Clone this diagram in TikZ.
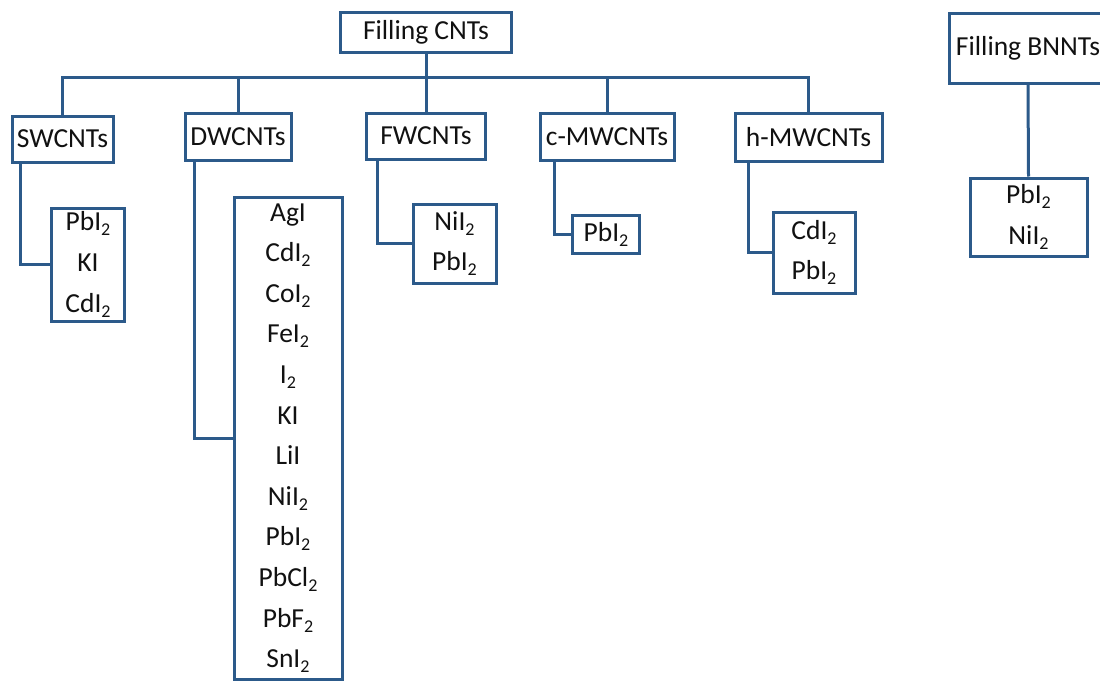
\documentclass[tikz,border=0pt]{standalone}
\usepackage{fontspec}
\setmainfont{Carlito}
\definecolor{lc}{HTML}{2C5A8A}
\definecolor{tc}{HTML}{111111}
\newcommand{\subtwo}{\raisebox{-5pt}{\fontsize{18}{18}\selectfont 2}}
\tikzset{
  box/.style={draw=lc, line width=3pt, inner sep=0pt, align=center, text=tc,
    font=\fontsize{27.5}{32}\selectfont},
  listbox/.style={box, font=\fontsize{27.5}{40.6}\selectfont},
  conn/.style={draw=lc, line width=3pt}
}
\begin{document}
\begin{tikzpicture}[x=1pt,y=-1pt]
\useasboundingbox (0,0) rectangle (1100,680);
\clip (0,0) rectangle (1100,680);
\fill[white] (0,0) rectangle (1100,680);
% top level
\node[box, minimum width=171pt, minimum height=40pt] (fcnt) at (426,32.5) {Filling CNTs};
\node[box, minimum width=158pt, minimum height=70pt] (bnnt) at (1028,48) {Filling BNNTs};
% second level
\node[box, minimum width=101pt, minimum height=46pt] (sw) at (62.5,139) {SWCNTs};
\node[box, minimum width=106pt, minimum height=47pt] (dw) at (238,136.5) {DWCNTs};
\node[box, minimum width=119pt, minimum height=46pt] (fw) at (426,136) {FWCNTs};
\node[box, minimum width=134pt, minimum height=47pt] (cmw) at (607,136.5) {c-MWCNTs};
\node[box, minimum width=147pt, minimum height=48pt] (hmw) at (808.5,137) {h-MWCNTs};
% lists
\node[listbox, minimum width=73pt, minimum height=113pt] (swl) at (88,264.5)
  {PbI\subtwo\\KI\\CdI\subtwo};
\node[listbox, minimum width=108pt, minimum height=482pt] (dwl) at (288,438)
  {AgI\\CdI\subtwo\\CoI\subtwo\\FeI\subtwo\\I\subtwo\\KI\\LiI\\NiI\subtwo\\PbI\subtwo\\PbCl\subtwo\\PbF\subtwo\\SnI\subtwo};
\node[listbox, minimum width=83pt, minimum height=79pt] (fwl) at (454.5,243.5)
  {NiI\subtwo\\PbI\subtwo};
\node[listbox, minimum width=67pt, minimum height=38pt] (cml) at (606,234)
  {PbI\subtwo};
\node[listbox, minimum width=82pt, minimum height=81pt] (hml) at (814,252.5)
  {CdI\subtwo\\PbI\subtwo};
\node[listbox, minimum width=117pt, minimum height=78pt] (bnl) at (1028.5,217)
  {PbI\subtwo\\NiI\subtwo};
% bus
\coordinate (busy) at (0,77);
\draw[conn] (sw.north) |- (busy -| hmw.north) -- (hmw.north);
\draw[conn] (fcnt.south) -- (fw.north);
\draw[conn] (dw.north) -- (dw.north |- busy);
\draw[conn] (cmw.north) -- (cmw.north |- busy);
% children
\draw[conn] ([xshift=10pt]sw.south west) |- (swl.west);
\draw[conn] ([xshift=10.5pt]dw.south west) |- (dwl.west);
\draw[conn] ([xshift=12pt]fw.south west) |- (fwl.west);
\draw[conn] ([xshift=16pt]cmw.south west) |- (cml.west);
\draw[conn] ([xshift=15pt]hmw.south west) |- (hml.west);
\draw[conn] (bnnt.south) -- (bnl.north);
\end{tikzpicture}
\end{document}
